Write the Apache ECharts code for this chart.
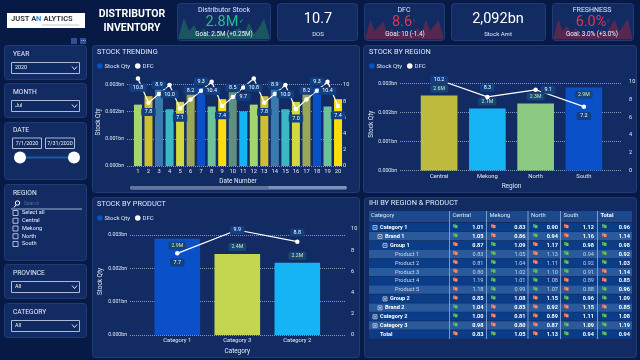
<!DOCTYPE html>
<html><head><meta charset="utf-8">
<style>html,body{margin:0;padding:0;background:#061a45}#c{width:640px;height:360px}</style>
<script src="https://cdn.jsdelivr.net/npm/echarts@6/dist/echarts.min.js"></script>
</head><body><div id="c"></div>
<script>
const trendDays=['1','2','3','4','5','6','7','8','9','10','11','12','13','14','15','16','17','18','19','20'];
const trendStock=[0.00226,0.00257,0.00281,0.00209,0.00236,0.00263,0.00288,0.00219,0.00246,0.00272,0.00201,0.00226,0.00257,0.00281,0.00209,0.00236,0.00263,0.00288,0.00219,0.00246];
const trendDfc=[10.8,7.8,8.9,10.0,7.1,8.2,9.3,10.4,7.4,8.5,9.7,10.8,7.8,8.9,10.0,7.0,8.2,9.3,10.4,7.4];
const regionNames=['Central','Mekong','North','South'];
const regionStock=[0.00259,0.00214,0.00231,0.00286];
const regionDfc=[10.2,8.3,9.1,7.2];
const productNames=['Category 1','Category 3','Category 2'];
const productStock=[0.00289,0.00243,0.00217];
const productDfc=[7.7,9.9,8.8];
const sparkStock=[0.15,0.78,0.3,0.52,0.18,0.4,0.12,0.32,0.16,0.28,0.15,0.3,0.42,0.2,0.6,0.18,0.42,0.75,0.15];
const sparkDfc=[0.12,0.7,0.3,0.45,0.65,0.2,0.4,0.15,0.3,0.14,0.3,0.18,0.42,0.2,0.72,0.3,0.5,0.68,0.12];
const sparkFresh=[0.12,0.75,0.3,0.5,0.2,0.42,0.14,0.3,0.15,0.28,0.14,0.32,0.2,0.45,0.72,0.25,0.5,0.74,0.12];
const tableRows=['Category 1','Brand 1','Group 1','Product 1','Product 2','Product 3','Product 4','Product 5','Group 2','Brand 2','Category 2','Category 3','Total'];
const colCentral=['1.01','1.05','0.87','0.83','0.81','0.80','1.19','1.18','0.85','1.04','1.00','0.98','0.83'];
const colMekong=['0.83','0.86','1.09','1.05','1.04','1.02','1.01','0.99','1.08','0.85','0.81','0.80','1.05'];
const colNorth=['0.90','0.94','1.17','1.13','1.11','1.10','1.08','1.07','1.15','0.92','0.89','0.87','1.13'];
const colSouth=['1.12','1.16','0.98','0.94','0.92','0.91','0.89','0.88','0.96','1.15','1.11','1.09','0.94'];
const colTotal=['0.96','1.14','0.98','0.92','1.03','1.14','0.85','0.96','1.09','0.85','1.08','1.19','0.94'];
const flagCentral='ggrrrrrrrgggr';
const flagMekong='rrgggggggrrrg';
const flagNorth='ggrrrgggrrrrr';
const flagSouth='rrggggrrgrrgg';
const flagTotal='grgggrrggrggg';
const tableHeads=['Category','Central','Mekong','North','South','Total'];

const FF='Roboto,"Noto Sans",sans-serif';
const gfx=[], grids=[], xAxes=[], yAxes=[], series=[], legends=[];
const rect=(x,y,w,h,fill,r,stroke)=>gfx.push({type:'rect',silent:true,shape:{x,y,width:w,height:h,r:r||0},style:{fill:fill||'transparent',stroke:stroke||null,lineWidth:1}});
const text=(t,x,y,size,color,o)=>{o=o||{};gfx.push({type:'text',silent:true,z:o.z||5,style:{text:t,x,y,fill:color||'#e8edf7',font:(o.weight||'normal')+' '+size+'px '+FF,textAlign:o.align||'left',textVerticalAlign:'middle'}})};
const line=(x1,y1,x2,y2,c,w)=>gfx.push({type:'line',silent:true,shape:{x1,y1,x2,y2},style:{stroke:c,lineWidth:w||1}});
const PANEL='#122c63',BORDER='#1f3c76';
const panel=(x,y,w,h)=>rect(x,y,w,h,PANEL,3,BORDER);

/* chart panels */
panel(92.5,45.5,267,147);panel(363.5,45.5,273,147);panel(92.5,197.5,267,160);panel(364.5,197.5,272,160);
text('STOCK TRENDING',97,52,7.4,'#dfe6f5');
text('STOCK BY REGION',369,52,7.4,'#dfe6f5');
text('STOCK BY PRODUCT',97,204,7.4,'#dfe6f5');
text('IHI BY REGION & PRODUCT',369,203,7.4,'#dfe6f5');

/* header: logo and title */
rect(7,13,78,15,'#ffffff');
text('JUST A',11,19,7.5,'#33383f',{weight:'bold'});
text('N',36,19,7.5,'#2a8fd6',{weight:'bold'});
text('ALYTICS',43.5,19,7.5,'#33383f',{weight:'bold'});
line(42,25,79,25,'#c4c8cd',1);
text('DISTRIBUTOR',132,14,10.5,'#ffffff',{weight:'bold',align:'center'});
text('INVENTORY',132,28,10.5,'#ffffff',{weight:'bold',align:'center'});

/* KPI cards */
panel(177.5,3.5,93,37);panel(277.5,3.5,80,37);panel(364.5,3.5,80,37);panel(451.5,3.5,94,37);panel(552.5,3.5,81,37);
text('Distributor Stock',224,10,7,'#dfe6f5',{align:'center'});
text('2.8M',222,22,14.5,'#1fc08a',{align:'center'});
text('\u2713',241,21,6,'#1fc08a',{align:'center'});
text('Goal: 2.5M (+0.25M)',224,34,6.3,'#eef2fa',{align:'center'});
text('10.7',318,19,14.5,'#ffffff',{align:'center'});
text('DOS',318,34,6,'#e2e8f4',{align:'center'});
text('DFC',404,10,7,'#dfe6f5',{align:'center'});
text('8.6',402,22,14.5,'#e0334f',{align:'center'});
text('!',414,21,6,'#e0334f',{align:'center'});
text('Goal: 10 (-1.4)',405,34,6.3,'#eef2fa',{align:'center'});
text('2,092bn',498,19,14.5,'#ffffff',{align:'center'});
text('Stock Amt',498,34,6,'#e2e8f4',{align:'center'});
text('FRESHNESS',592,10,7,'#dfe6f5',{align:'center'});
text('6.0%',591,22,14.5,'#e0334f',{align:'center'});
text('!',608,21,6,'#e0334f',{align:'center'});
text('Goal: 3.0% (+3.0%)',592,34,6.3,'#eef2fa',{align:'center'});

/* slicers */
rect(71,38,6,6,'#2e4f95');rect(80,38,6,6,'#2e4f95');
text('\u22EF',83,40.5,5,'#dfe6f5',{align:'center'});
const dropdown=(y,label,val)=>{
  text(label,13,y+9,6.7,'#e8edf7');
  rect(11.5,y+17.5,68,11,'#0f2a60',0,'#aebbd6');
  text(val,15,y+23,5.4,'#eef2fa');
  gfx.push({type:'polyline',silent:true,z:5,shape:{points:[[72,y+21.5],[74.5,y+24.5],[77,y+21.5]]},style:{stroke:'#dfe6f5',lineWidth:1,fill:null}});
};
panel(4.5,45.5,82,34);dropdown(45,'YEAR','2020');
panel(4.5,83.5,82,34);dropdown(83,'MONTH','Jul');
panel(4.5,122.5,82,57);
text('DATE',13,130,6.7,'#e8edf7');
rect(12.5,138,29,10.5,'#0f2a60',0,'#aebbd6');rect(45.5,138,29,10.5,'#0f2a60',0,'#aebbd6');
text('7/1/2020',27,143.5,5.4,'#eef2fa',{align:'center'});
text('7/31/2020',60,143.5,5.4,'#eef2fa',{align:'center'});
line(20,157.5,74,157.5,'#1f5aa0',2);
gfx.push({type:'circle',silent:true,shape:{cx:20,cy:157.5,r:6},style:{fill:'#fff'}});
gfx.push({type:'circle',silent:true,shape:{cx:74,cy:157.5,r:6},style:{fill:'#fff'}});
panel(4.5,184.5,82,76);
text('REGION',13,193,6.7,'#e8edf7');
gfx.push({type:'circle',silent:true,shape:{cx:17.5,cy:203,r:2.2},style:{fill:null,stroke:'#fff',lineWidth:1}});
line(16,205,14,207.5,'#fff',1);
text('Search',24,204,5,'#4e6796');
line(11,209,82,209,'#9fb2d4',1);
['Select all','Central','Mekong','North','South'].forEach((s,i)=>{
  const y=213+i*7.75;
  rect(13,y-2.5,5,5,null,0,'#aebbd6');
  text(s,22,y,5.6,'#e8edf7');
});
panel(4.5,264.5,82,34);dropdown(264,'PROVINCE','All');
panel(4.5,303.5,82,34);dropdown(303,'CATEGORY','All');

/* scrollbar */
rect(130,186,217,3.5,'#7f92b8',1.7);
rect(130,186,139,3.5,'#63759c',1.7);

/* sparklines */
function spark(vals,l,r,color){
  const i=grids.length;
  grids.push({left:l,width:r-l,top:12,height:27,show:false});
  xAxes.push({gridIndex:i,type:'category',show:false,boundaryGap:false,data:vals.map((_,k)=>k)});
  yAxes.push({gridIndex:i,type:'value',show:false,min:0,max:1});
  series.push({type:'line',name:'spark'+i,xAxisIndex:xAxes.length-1,yAxisIndex:yAxes.length-1,data:vals,symbol:'none',silent:true,z:1,
    lineStyle:{width:0},areaStyle:{color,opacity:1}});
}
spark(sparkStock,179,269,'#1b5560');
spark(sparkDfc,366,443,'#57284f');
spark(sparkFresh,554,632,'#57284f');

/* combo charts */
function combo(o){
  const gi=grids.length, top=o.top, h=o.base-o.top;
  grids.push({left:o.outer[0],width:o.outer[1]-o.outer[0],top,height:h,show:false});
  grids.push({left:o.inner[0],width:o.inner[1]-o.inner[0],top,height:h,show:false});
  xAxes.push({gridIndex:gi,type:'category',show:false,data:['']});
  const xInner=xAxes.length;
  xAxes.push({gridIndex:gi+1,type:'category',data:o.cats,name:o.xName,nameLocation:'middle',nameGap:o.xGap,
    nameTextStyle:{color:'#e2e8f4',fontSize:6.4,fontFamily:FF},axisLine:{show:false},axisTick:{show:false},
    axisLabel:{color:'#e2e8f4',fontSize:o.catFont,fontFamily:FF,margin:o.catMargin,interval:0}});
  const lab={color:'#e2e8f4',fontFamily:FF,showMaxLabel:false};
  yAxes.push({gridIndex:gi,type:'value',position:'left',min:0,max:o.leftMax,interval:0.001,name:'Stock Qty',nameLocation:'middle',nameGap:o.yGap,
    nameTextStyle:{color:'#e2e8f4',fontSize:6.4,fontFamily:FF},axisLine:{show:false},axisTick:{show:false},
    axisLabel:Object.assign({},lab,{fontSize:5.2,margin:3,formatter:v=>v.toFixed(3)+'bn'}),
    splitLine:{show:true,showMaxLine:false,lineStyle:{type:'dotted',color:'rgba(255,255,255,0.5)',width:1}}});
  yAxes.push({gridIndex:gi,type:'value',position:'right',min:0,max:o.rightMax,interval:2,axisLine:{show:false},axisTick:{show:false},
    axisLabel:Object.assign({},lab,{fontSize:5.6,margin:o.rightMargin}),splitLine:{show:false}});
  const yBar=yAxes.length;
  yAxes.push({gridIndex:gi+1,type:'value',show:false,min:0,max:o.leftMax,splitLine:{show:false}});
  const yLine=yAxes.length;
  yAxes.push({gridIndex:gi+1,type:'value',show:false,min:0,max:o.rightMax,splitLine:{show:false}});
  series.push({type:'bar',name:'Stock Qty',xAxisIndex:xInner,yAxisIndex:yBar,barWidth:'76%',z:2,itemStyle:{color:'#0a50c8'},
    data:o.stock.map((v,i)=>({value:v,itemStyle:{color:o.colors[i%o.colors.length]},
      label:o.barPos?{show:true,position:o.barPos[i],distance:3}:{show:false}})),
    label:{color:'#dbe8a8',fontSize:5.2,fontFamily:FF,backgroundColor:'#15457a',borderRadius:1.5,padding:[1.5,3],formatter:p=>(p.value*1000).toFixed(1)+'M'}});
  series.push({type:'line',name:'DFC',xAxisIndex:xInner,yAxisIndex:yLine,z:4,symbol:'circle',symbolSize:4.5,
    lineStyle:{color:'#fff',width:1.2},itemStyle:{color:'#fff'},
    data:o.dfc.map((v,i)=>({value:v,label:{show:true,position:o.dfcPos[i],distance:3}})),
    label:{color:'#ffffff',fontSize:5.4,fontFamily:FF,backgroundColor:'#123f80',borderRadius:1.5,padding:[1.5,3.5],formatter:p=>p.value.toFixed(1)}});
  legends.push({show:true,left:o.legendX,top:o.legendY,itemWidth:5.5,itemHeight:5.5,itemGap:5,icon:'circle',selectedMode:false,padding:0,
    textStyle:{color:'#dfe6f5',fontSize:6,fontFamily:FF,padding:[0,0,0,-3]},
    data:[{name:'Stock Qty',icon:'circle'},{name:'DFC',icon:'circle'}]});
}
const B='bottom',T='top',I='inside',R='right';
combo({cats:trendDays,stock:trendStock,dfc:trendDfc,
  colors:['#a5d66b','#cdbf2f','#3a78ae','#3bb8c4','#d3d83e','#9aa755','#0a50c8','#6cc29a','#fbdd0e','#5f8f7f','#17b4f5'],
  dfcPos:[B,B,T,B,B,T,T,B,B,T,B,B,B,T,B,B,T,T,B,B],
  outer:[127,343],inner:[132.7,343.3],top:78,base:166,leftMax:0.00324,rightMax:10.86,
  xName:'Date Number',xGap:12.5,catFont:5.8,catMargin:3,yGap:23,rightMargin:0,legendX:97,legendY:63});
combo({cats:regionNames,stock:regionStock,dfc:regionDfc,
  colors:['#bfbb3f','#17b4f5','#8cca82','#0a50c8'],barPos:[T,T,T,'insideTop'],dfcPos:[I,T,R,B],
  outer:[400,622],inner:[415,608],top:78,base:170.5,leftMax:0.00319,rightMax:10.43,
  xName:'Region',xGap:12.5,catFont:5.8,catMargin:3,yGap:25,rightMargin:7,legendX:369,legendY:63});
combo({cats:productNames,stock:productStock,dfc:productDfc,
  colors:['#0a50c8','#c4d64f','#17b4f5'],barPos:['insideTop',T,T],dfcPos:[B,I,T],
  outer:[130,345],inner:[147.3,327.3],top:228,base:335,leftMax:0.00321,rightMax:10.09,
  xName:'Category',xGap:13,catFont:5.8,catMargin:3,yGap:27,rightMargin:6,legendX:97,legendY:215});

/* table */
const tblL=369,tblR=632,headTop=211,rowTop=223.1,rowH=8.92;
const cols=[
 {vals:colCentral,flags:flagCentral,sep:449.5,flagX:455,valX:483.5},
 {vals:colMekong,flags:flagMekong,sep:486.5,flagX:493,valX:525.5},
 {vals:colNorth,flags:flagNorth,sep:528,flagX:535,valX:558},
 {vals:colSouth,flags:flagSouth,sep:560.5,flagX:566,valX:594},
 {vals:colTotal,flags:flagTotal,sep:597.5,flagX:604,valX:630}];
rect(tblL,headTop,tblR-tblL,11,'#1b4a8c');
text(tableHeads[0],371,216,5.8,'#dfe6f5');
tableHeads.slice(1).forEach((h,i)=>text(h,cols[i].sep+3,216,5.8,i==4?'#ffffff':'#dfe6f5',{weight:i==4?'bold':'normal'}));
const indent=[0,1,2,3,3,3,3,3,2,1,0,0,-1];
const hasBox=[1,1,1,0,0,0,0,0,1,1,1,1,0];
const expanded=[1,1,1,0,0,0,0,0,0,0,0,0,0];
tableRows.forEach((name,i)=>{
  const y=rowTop+i*rowH, cy=y+rowH/2, product=name.startsWith('Product');
  rect(tblL,y,tblR-tblL,rowH-0.6,i%2?'#2a5a9c':'#0a3c88');
  const lvl=indent[i], tx=product?395:(lvl<0?380:380+lvl*5);
  text(name,tx,cy,5.6,product?'#ccd8ec':'#ffffff',{weight:product?'normal':'bold'});
  if(hasBox[i]){
    const bx=373+lvl*5;
    rect(bx,cy-2,4,4,null,0,'#aebbd6');
    line(bx+1,cy,bx+3,cy,'#dfe6f5',0.7);
    if(!expanded[i]) line(bx+2,cy-1,bx+2,cy+1,'#dfe6f5',0.7);
  }
  cols.forEach((c,k)=>{
    const good=c.flags[i]==='g';
    rect(c.flagX-2,cy-3.4,2.5,3.4,good?'#3fae5a':'#ef6b50');
    rect(c.flagX,cy-2.6,2.5,3.2,good?'#6dbf5b':'#ff8c6a');
    const bold=!product||k==4;
    text(c.vals[i],c.valX,cy,5.6,bold?'#ffffff':'#c4d2e8',{align:'right',weight:bold?'bold':'normal'});
  });
});
cols.forEach(c=>line(c.sep,headTop,c.sep,rowTop+13*rowH,'#8fb0de',0.8));

const chart=echarts.init(document.getElementById('c'),null,{width:640,height:360});
chart.setOption({animation:false,backgroundColor:'#061a45',textStyle:{fontFamily:FF},
  graphic:{elements:gfx},grid:grids,xAxis:xAxes,yAxis:yAxes,series,legend:legends,tooltip:{show:false}});
</script></body></html>
